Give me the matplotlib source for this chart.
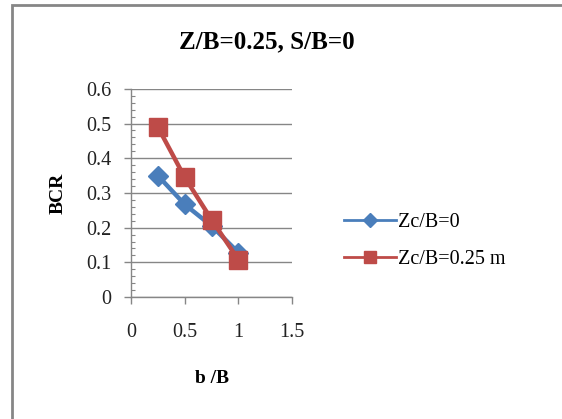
import matplotlib
matplotlib.use("Agg")
import matplotlib.pyplot as plt
from matplotlib.patches import Rectangle
from matplotlib.ticker import MultipleLocator

# b/B ratios and bearing capacity ratios
b_ratio = [0.25, 0.5, 0.75, 1.0]
bcr_zc0 = [0.35, 0.267, 0.205, 0.128]
bcr_zc025 = [0.49, 0.345, 0.223, 0.107]
series_names = ["Zc/B=0", "Zc/B=0.25 m"]

blue = "#4A7EBB"
red = "#BE4B48"
grey = "#868686"

plt.rcParams["font.family"] = ["Liberation Serif", "DejaVu Serif"]

fig = plt.figure(figsize=(5.62, 4.19), dpi=100)
ax = fig.add_axes([0.233, 0.291, 0.287, 0.497])

ax.plot(b_ratio, bcr_zc0, color=blue, lw=3.2, marker="D", ms=10,
        mec=blue, mfc=blue, label=series_names[0])
ax.plot(b_ratio, bcr_zc025, color=red, lw=3.2, marker="s", ms=13,
        mec=red, mfc=red, label=series_names[1])

ax.set_xlim(0, 1.5)
ax.set_ylim(0, 0.6)
ax.yaxis.set_minor_locator(MultipleLocator(0.02))
ax.set_xticks([0, 0.5, 1, 1.5])
ax.set_xticklabels(["0", "0.5", "1", "1.5"])
ax.set_yticks([0, 0.1, 0.2, 0.3, 0.4, 0.5, 0.6])
ax.set_yticklabels(["0", "0.1", "0.2", "0.3", "0.4", "0.5", "0.6"])

ax.grid(axis="y", color=grey, lw=1)
ax.set_axisbelow(True)
for side in ["top", "right"]:
    ax.spines[side].set_visible(False)
for side in ["left", "bottom"]:
    ax.spines[side].set_color(grey)
    ax.spines[side].set_linewidth(1)

ax.tick_params(axis="both", which="major", color=grey, length=5, width=1,
               labelsize=14.5, direction="out", labelcolor="#222222")
ax.tick_params(axis="y", which="major", pad=9)
ax.tick_params(axis="x", which="major", pad=14)
ax.tick_params(axis="y", which="minor", color=grey, length=3, width=0.8,
               direction="in")

fig.text(267 / 562, 1 - 42 / 419, "Z/B=0.25, S/B=0", fontsize=18,
         fontweight="bold", ha="center", va="center")
ax.set_ylabel("BCR", fontsize=14, fontweight="bold", labelpad=14)
ax.set_xlabel("b /B", fontsize=14, fontweight="bold", labelpad=20)

leg = fig.legend(loc="center left", bbox_to_anchor=(0.58, 0.425),
                 frameon=False, fontsize=14.5, handlelength=2.6,
                 labelspacing=0.85, handletextpad=0.1)
for h, ms in zip(leg.legend_handles, [7, 8]):
    h.set_linewidth(2)
    h.set_markersize(ms)

# chart frame
fig.patches.append(Rectangle((12 / 562, -0.1), 1.2, 1 - 5 / 419 + 0.1,
                             transform=fig.transFigure, fill=False,
                             edgecolor=grey, lw=2))

fig.savefig("out.png", dpi=100)
